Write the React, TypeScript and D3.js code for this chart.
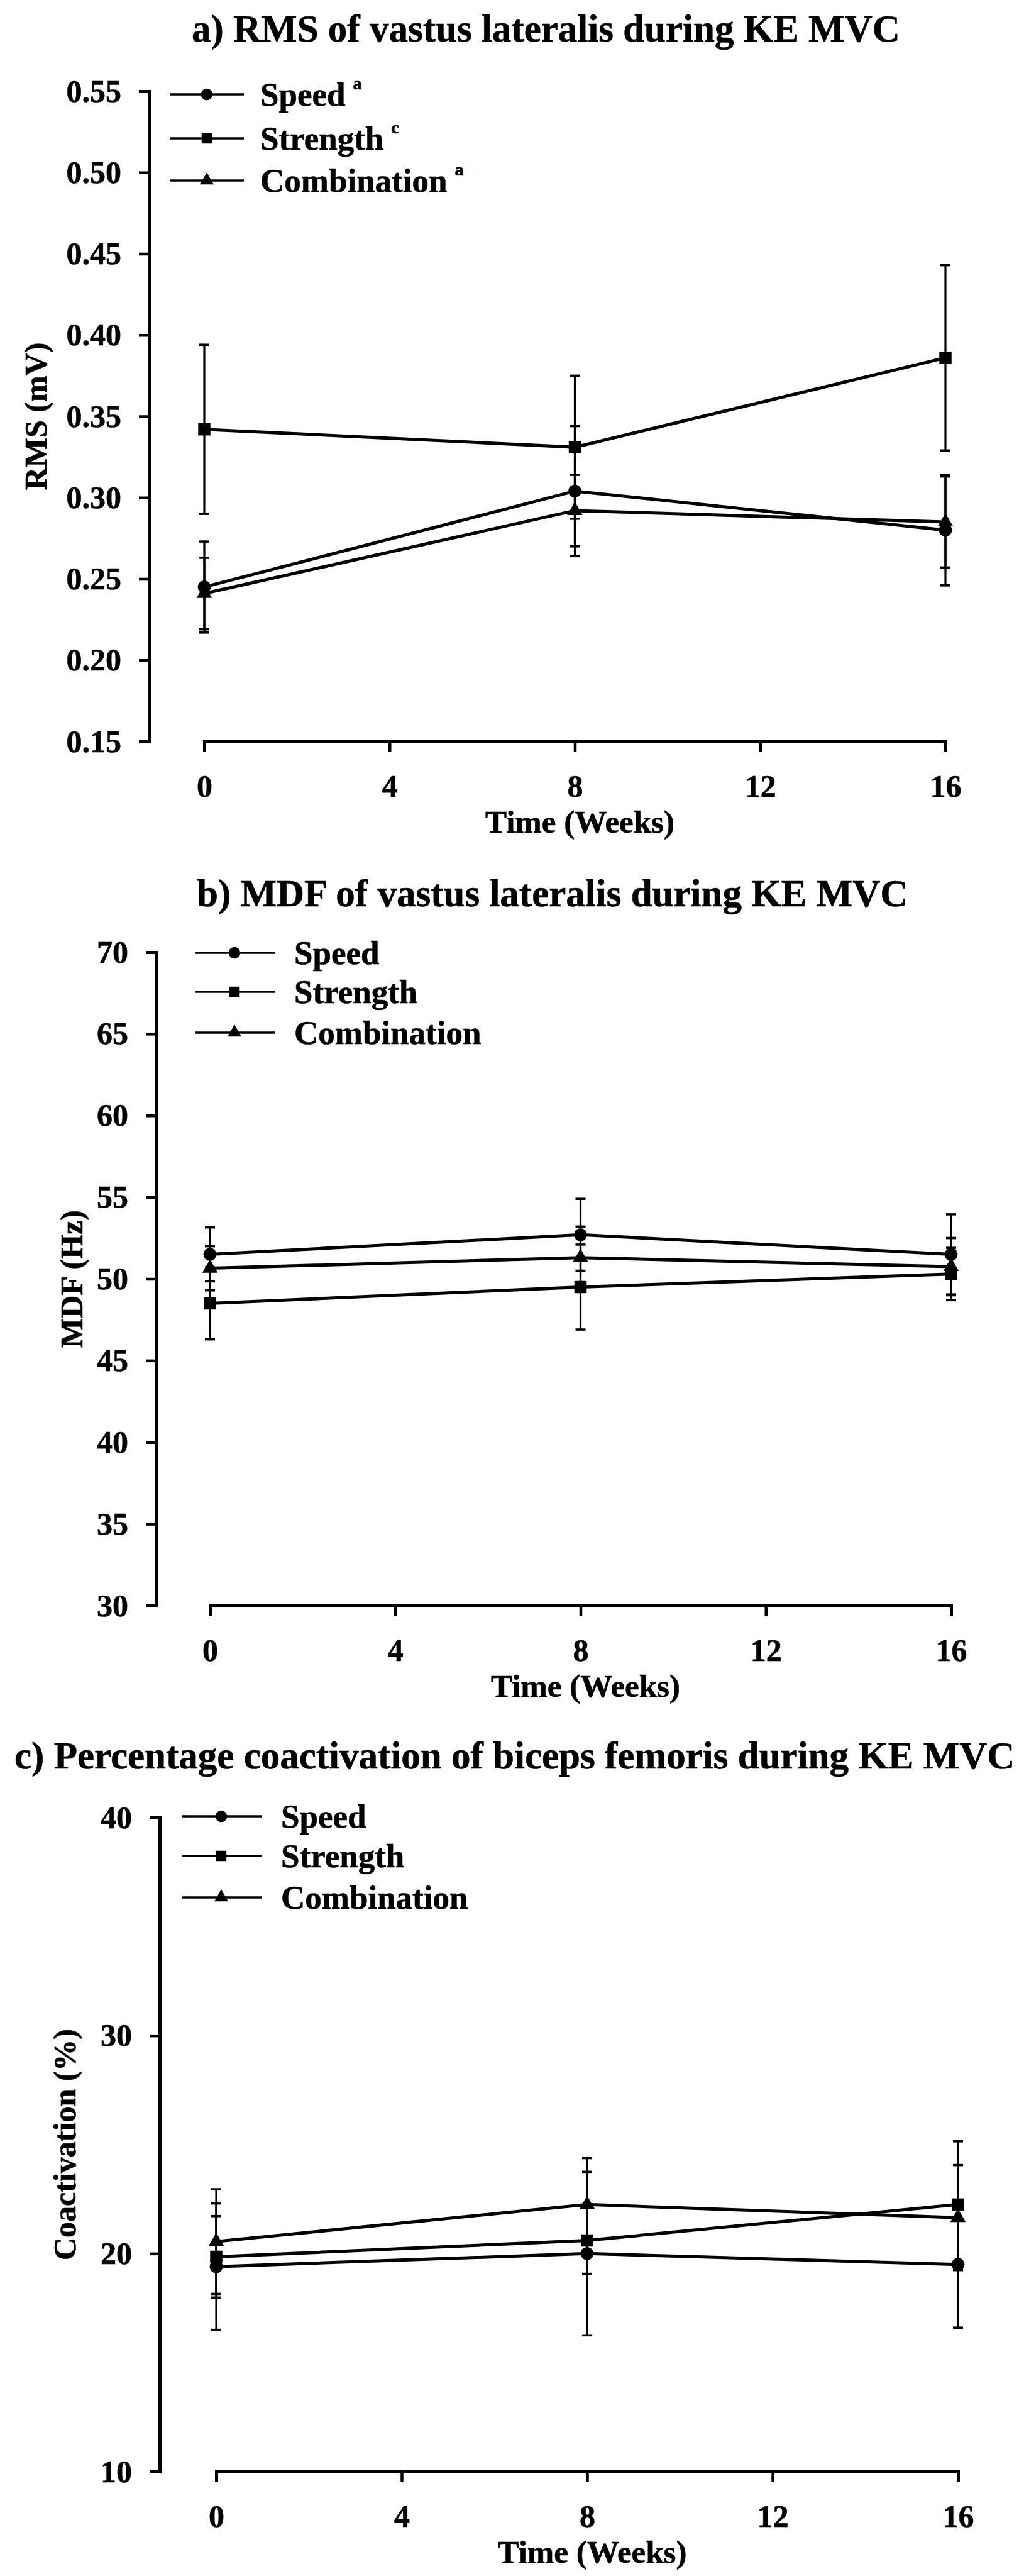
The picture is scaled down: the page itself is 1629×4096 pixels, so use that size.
import React, { useEffect, useRef } from 'react';
import * as d3 from 'd3';

// Training time points (weeks) and axis ticks
const weeks = [0, 8, 16];
const weekTicks = [0, 4, 8, 12, 16];
const seriesNames = ['Speed', 'Strength', 'Combination'];

// a) RMS of vastus lateralis during KE MVC (mV), mean and SE
const rmsSpeed = [0.245, 0.304, 0.28];
const rmsSpeedSE = [0.028, 0.04, 0.034];
const rmsStrength = [0.342, 0.331, 0.386];
const rmsStrengthSE = [0.052, 0.044, 0.057];
const rmsCombination = [0.241, 0.292, 0.285];
const rmsCombinationSE = [0.022, 0.022, 0.028];
const rmsTicks = [0.15, 0.2, 0.25, 0.3, 0.35, 0.4, 0.45, 0.5, 0.55];
const rmsSuperscripts = ['a', 'c', 'a'];

// b) MDF of vastus lateralis during KE MVC (Hz)
const mdfSpeed = [51.5, 52.7, 51.5];
const mdfSpeedSE = [1.65, 2.2, 2.45];
const mdfStrength = [48.5, 49.5, 50.3];
const mdfStrengthSE = [2.2, 2.6, 1.6];
const mdfCombination = [50.65, 51.3, 50.75];
const mdfCombinationSE = [1.35, 1.9, 1.75];
const mdfTicks = [30, 35, 40, 45, 50, 55, 60, 65, 70];

// c) Percentage coactivation of biceps femoris during KE MVC (%)
const coSpeed = [19.4, 20.0, 19.5];
const coSpeedSE = [2.9, 3.75, 2.9];
const coStrength = [19.85, 20.6, 22.25];
const coStrengthSE = [1.87, 1.53, 2.9];
const coCombination = [20.55, 22.25, 21.65];
const coCombinationSE = [2.4, 2.13, 2.41];
const coTicks = [10, 20, 30, 40];

const FONT = '"Liberation Serif", "Times New Roman", serif';
const W = 1629;
const H = 4096;

const symbols = [d3.symbolCircle, d3.symbolSquare, d3.symbolTriangle];
const symbolSizes = [340, 380, 260];
const legendSymbolSizes = [270, 270, 210];

const panels = [
  {
    title: 'a) RMS of vastus lateralis during KE MVC',
    titlePos: [305, 66],
    yLabel: 'RMS (mV)',
    yLabelX: 74,
    domain: [0.15, 0.55],
    ticks: rmsTicks,
    fmt: d3.format('.2f'),
    means: [rmsSpeed, rmsStrength, rmsCombination],
    ses: [rmsSpeedSE, rmsStrengthSE, rmsCombinationSE],
    sup: rmsSuperscripts,
    yAxisX: 237,
    yTop: 145,
    yBottom: 1179,
    xLeft: 325,
    xRight: 1504,
    legend: { x0: 271, x1: 388, mx: 329, tx: 414, rows: [150, 220, 287] },
  },
  {
    title: 'b) MDF of vastus lateralis during KE MVC',
    titlePos: [313, 1441],
    yLabel: 'MDF (Hz)',
    yLabelX: 131,
    domain: [30, 70],
    ticks: mdfTicks,
    fmt: d3.format('d'),
    means: [mdfSpeed, mdfStrength, mdfCombination],
    ses: [mdfSpeedSE, mdfStrengthSE, mdfCombinationSE],
    sup: null,
    yAxisX: 248,
    yTop: 1514,
    yBottom: 2553,
    xLeft: 334,
    xRight: 1513,
    legend: { x0: 310, x1: 437, mx: 373, tx: 468, rows: [1515, 1577, 1642] },
  },
  {
    title: 'c) Percentage coactivation of biceps femoris during KE MVC',
    titlePos: [23, 2812],
    yLabel: 'Coactivation (%)',
    yLabelX: 120,
    domain: [10, 40],
    ticks: coTicks,
    fmt: d3.format('d'),
    means: [coSpeed, coStrength, coCombination],
    ses: [coSpeedSE, coStrengthSE, coCombinationSE],
    sup: null,
    yAxisX: 254,
    yTop: 2890,
    yBottom: 3930,
    xLeft: 344,
    xRight: 1524,
    legend: { x0: 290, x1: 416, mx: 352, tx: 447, rows: [2888, 2951, 3017] },
  },
];

function styleText(sel: any, size: number) {
  return sel
    .attr('font-family', FONT)
    .attr('font-size', size)
    .attr('font-weight', 'bold')
    .attr('fill', '#000')
    .attr('stroke', '#000')
    .attr('stroke-width', 0.6);
}

function drawPanel(svg: any, p: any) {
  const g = svg.append('g');
  const x = d3.scaleLinear().domain([0, 16]).range([p.xLeft, p.xRight]);
  const y = d3.scaleLinear().domain(p.domain).range([p.yBottom, p.yTop]);

  // Title
  styleText(g.append('text').attr('x', p.titlePos[0]).attr('y', p.titlePos[1]), 61).text(p.title);

  // Axes (offset, SigmaPlot-like)
  const yg = g
    .append('g')
    .attr('transform', `translate(${p.yAxisX},0)`)
    .call(d3.axisLeft(y).tickValues(p.ticks).tickFormat(p.fmt).tickSize(16).tickPadding(28));
  const xg = g
    .append('g')
    .attr('transform', `translate(0,${p.yBottom})`)
    .call(d3.axisBottom(x).tickValues(weekTicks).tickFormat(d3.format('d')).tickSize(16));

  [yg, xg].forEach((a: any) => {
    a.attr('font-family', null).attr('font-size', null);
    a.select('.domain').attr('stroke', '#000').attr('stroke-width', 5);
    a.selectAll('.tick line').attr('stroke', '#000').attr('stroke-width', 4.5);
    styleText(a.selectAll('.tick text'), 50);
  });
  xg.selectAll('.tick text').attr('y', 88).attr('dy', null);

  // Axis titles
  styleText(
    g
      .append('text')
      .attr('transform', `translate(${p.yLabelX},${(p.yTop + p.yBottom) / 2}) rotate(-90)`)
      .attr('text-anchor', 'middle'),
    50
  ).text(p.yLabel);
  styleText(
    g
      .append('text')
      .attr('x', x(8) + 8)
      .attr('y', p.yBottom + 145)
      .attr('text-anchor', 'middle'),
    51
  ).text('Time (Weeks)');

  const line = d3
    .line<number>()
    .x((_, i) => x(weeks[i]))
    .y((d) => y(d));

  // Series lines
  p.means.forEach((vals: number[]) => {
    g.append('path')
      .attr('d', line(vals))
      .attr('fill', 'none')
      .attr('stroke', '#000')
      .attr('stroke-width', 5);
  });

  // Error bars (mean ± SE)
  p.means.forEach((vals: number[], s: number) => {
    vals.forEach((v, i) => {
      const se = p.ses[s][i];
      const cx = x(weeks[i]);
      const y0 = y(v - se);
      const y1 = y(v + se);
      g.append('line')
        .attr('x1', cx).attr('x2', cx).attr('y1', y0).attr('y2', y1)
        .attr('stroke', '#000').attr('stroke-width', 3.2);
      [y0, y1].forEach((yy) => {
        g.append('line')
          .attr('x1', cx - 8).attr('x2', cx + 8).attr('y1', yy).attr('y2', yy)
          .attr('stroke', '#000').attr('stroke-width', 3.6);
      });
    });
  });

  // Markers
  p.means.forEach((vals: number[], s: number) => {
    vals.forEach((v, i) => {
      g.append('path')
        .attr('d', d3.symbol().type(symbols[s]).size(symbolSizes[s])())
        .attr('transform', `translate(${x(weeks[i])},${y(v)})`)
        .attr('fill', '#000');
    });
  });

  // Legend
  const L = p.legend;
  seriesNames.forEach((name, s) => {
    const ly = L.rows[s];
    g.append('line')
      .attr('x1', L.x0).attr('x2', L.x1).attr('y1', ly).attr('y2', ly)
      .attr('stroke', '#000').attr('stroke-width', 3.5);
    g.append('path')
      .attr('d', d3.symbol().type(symbols[s]).size(legendSymbolSizes[s])())
      .attr('transform', `translate(${L.mx},${ly})`)
      .attr('fill', '#000');
    const t = styleText(g.append('text').attr('x', L.tx).attr('y', ly + 18), 53).text(name);
    if (p.sup) {
      t.append('tspan')
        .attr('dx', 12)
        .attr('dy', -26)
        .attr('font-size', 28)
        .text(p.sup[s]);
    }
  });
}

export default function App() {
  const ref = useRef<SVGSVGElement>(null);

  useEffect(() => {
    const svg = d3.select(ref.current);
    svg.selectAll('*').remove();
    svg.append('rect').attr('width', W).attr('height', H).attr('fill', '#fff');
    panels.forEach((p) => drawPanel(svg, p));
  }, []);

  return (
    <svg
      ref={ref}
      width={W}
      height={H}
      viewBox={`0 0 ${W} ${H}`}
      style={{ position: 'absolute', left: 0, top: 0, display: 'block', background: '#fff' }}
    />
  );
}
